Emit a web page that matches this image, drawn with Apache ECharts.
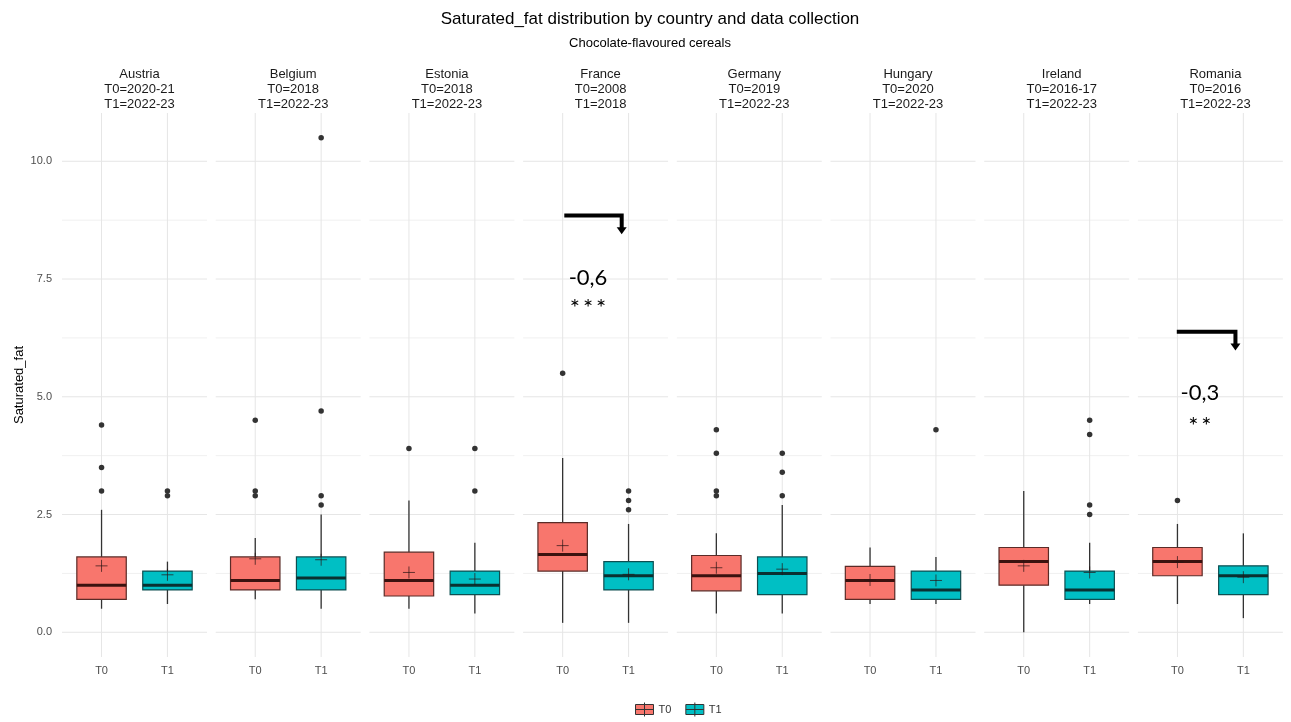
<!DOCTYPE html>
<html>
<head>
<meta charset="utf-8">
<script src="https://cdn.jsdelivr.net/npm/echarts@6/dist/echarts.min.js"></script>
<style>
  html, body { margin: 0; padding: 0; background: #fff; }
  #main { width: 1291px; height: 722px; }
</style>
</head>
<body>
<div id="main"></div>
<script>
(function () {
  var countries = ['Austria', 'Belgium', 'Estonia', 'France', 'Germany', 'Hungary', 'Ireland', 'Romania'];
  var periodT0 = ['2020-21', '2018', '2018', '2008', '2019', '2020', '2016-17', '2016'];
  var periodT1 = ['2022-23', '2022-23', '2022-23', '2018', '2022-23', '2022-23', '2022-23', '2022-23'];
  var groups = ['T0', 'T1'];

  // [whisker low, Q1, median, Q3, whisker high, mean]
  var statsT0 = [
    [0.5, 0.7, 1.0, 1.6, 2.6, 1.41],
    [0.7, 0.9, 1.1, 1.6, 2.0, 1.56],
    [0.5, 0.77, 1.1, 1.7, 2.8, 1.27],
    [0.2, 1.3, 1.65, 2.33, 3.7, 1.84],
    [0.4, 0.88, 1.2, 1.63, 2.1, 1.37],
    [0.6, 0.7, 1.1, 1.4, 1.8, 1.11],
    [0.0, 1.0, 1.5, 1.8, 3.0, 1.41],
    [0.6, 1.2, 1.5, 1.8, 2.3, 1.49]
  ];
  var statsT1 = [
    [0.6, 0.9, 1.0, 1.3, 1.5, 1.22],
    [0.5, 0.9, 1.15, 1.6, 2.5, 1.54],
    [0.4, 0.8, 1.0, 1.3, 1.9, 1.13],
    [0.2, 0.9, 1.2, 1.5, 2.3, 1.23],
    [0.4, 0.8, 1.25, 1.6, 2.7, 1.34],
    [0.6, 0.7, 0.9, 1.3, 1.6, 1.10],
    [0.6, 0.7, 0.9, 1.3, 1.9, 1.27],
    [0.3, 0.8, 1.2, 1.41, 2.1, 1.17]
  ];
  var outliersT0 = [
    [4.4, 3.5, 3.0], [4.5, 3.0, 2.9], [3.9], [5.5],
    [4.3, 3.8, 3.0, 2.9], [], [], [2.8]
  ];
  var outliersT1 = [
    [3.0, 2.9], [10.5, 4.7, 2.9, 2.7], [3.9, 3.0], [3.0, 2.8, 2.6],
    [3.8, 3.4, 2.9], [4.3], [4.5, 4.2, 2.7, 2.5], []
  ];

  var yTicks = [0, 2.5, 5, 7.5, 10];
  var yMinor = [1.25, 3.75, 6.25, 8.75];

  // significance annotations (data units of the panel)
  var annotations = [
    { panel: 3, from: 1.025, to: 1.896, y: 8.85, tip: 8.45, change: '-0,6', stars: '***', tx: 1.385, ty: 7.52, sy: 6.95 },
    { panel: 7, from: 0.99, to: 1.88, y: 6.38, tip: 5.98, change: '-0,3', stars: '**', tx: 1.34, ty: 5.08, sy: 4.44 }
  ];

  var fills = ['#F8766D', '#00BFC4'];
  var borders = ['#5a2b27', '#0e4f51'];
  var medians = ['#3b120f', '#0a3131'];
  var font = 'Liberation Sans, Arial, sans-serif';

  var left0 = 62, step = 153.7, pw = 145, top = 113, ph = 544;

  var grid = [], xAxis = [], yAxis = [], series = [], titles = [];

  titles.push({
    text: 'Saturated_fat distribution by country and data collection',
    left: 645, top: 6, textAlign: 'center',
    textStyle: { fontFamily: font, fontSize: 17, fontWeight: 'normal', color: '#000' }
  });
  titles.push({
    text: 'Chocolate-flavoured cereals',
    left: 645, top: 32, textAlign: 'center',
    textStyle: { fontFamily: font, fontSize: 13, fontWeight: 'normal', color: '#000' }
  });

  function renderGrid(params, api) {
    var cs = params.coordSys;
    var kind = api.value(0), v = api.value(1);
    if (kind === 2) {
      var px = api.coord([v, 0])[0];
      return { type: 'line', shape: { x1: px, y1: cs.y, x2: px, y2: cs.y + cs.height },
        style: { stroke: '#e6e6e6', lineWidth: 1 }, silent: true };
    }
    var py = api.coord([1, v])[1];
    return { type: 'line', shape: { x1: cs.x, y1: py, x2: cs.x + cs.width, y2: py },
      style: { stroke: kind === 0 ? '#e6e6e6' : '#f0f0f0', lineWidth: 1 }, silent: true };
  }

  function makeBoxRenderer(g) {
    return function (params, api) {
      var x = api.value(0);
      var pLo = api.coord([x, api.value(1)]);
      var pQ1 = api.coord([x, api.value(2)]);
      var pMed = api.coord([x, api.value(3)]);
      var pQ3 = api.coord([x, api.value(4)]);
      var pHi = api.coord([x, api.value(5)]);
      var pMean = api.coord([x, api.value(6)]);
      var w = api.size([0.75, 0])[0];
      var cx = pMed[0];
      return {
        type: 'group',
        children: [
          { type: 'line', shape: { x1: cx, y1: pQ3[1], x2: cx, y2: pHi[1] }, style: { stroke: '#333', lineWidth: 1.3 } },
          { type: 'line', shape: { x1: cx, y1: pQ1[1], x2: cx, y2: pLo[1] }, style: { stroke: '#333', lineWidth: 1.3 } },
          { type: 'rect', shape: { x: cx - w / 2, y: pQ3[1], width: w, height: pQ1[1] - pQ3[1] },
            style: { fill: fills[g], stroke: borders[g], lineWidth: 1.2 } },
          { type: 'line', shape: { x1: cx - w / 2, y1: pMed[1], x2: cx + w / 2, y2: pMed[1] }, style: { stroke: medians[g], lineWidth: 3 } },
          { type: 'line', shape: { x1: cx - 6, y1: pMean[1], x2: cx + 6, y2: pMean[1] }, style: { stroke: 'rgba(40,20,20,0.7)', lineWidth: 1 } },
          { type: 'line', shape: { x1: cx, y1: pMean[1] - 6, x2: cx, y2: pMean[1] + 6 }, style: { stroke: 'rgba(40,20,20,0.7)', lineWidth: 1 } }
        ]
      };
    };
  }

  function renderAnnotation(k, api) {
    var a = annotations[k];
    var p1 = api.coord([a.from, a.y]);
    var p2 = api.coord([a.to, a.y]);
    var pt = api.coord([a.to, a.tip]);
    var pText = api.coord([a.tx, a.ty]);
    var pStars = api.coord([a.tx, a.sy]);
    return {
      type: 'group',
      children: [
        { type: 'polyline', shape: { points: [p1, p2, [p2[0], pt[1] - 6]] },
          style: { stroke: '#000', lineWidth: 4, fill: null } },
        { type: 'polygon', shape: { points: [[pt[0] - 5, pt[1] - 7], [pt[0] + 5, pt[1] - 7], [pt[0], pt[1]]] },
          style: { fill: '#000' } },
        { type: 'text', x: pText[0], y: pText[1],
          style: { text: a.change, fontFamily: 'Lato, Open Sans, sans-serif', fontSize: 22, fill: '#000', align: 'center', verticalAlign: 'middle' } },
        { type: 'text', x: pStars[0], y: pStars[1] + 3,
          style: { text: a.stars.split('').join('\u2009'), fontFamily: 'Lato, Open Sans, sans-serif', fontSize: 24, fill: '#000', align: 'center', verticalAlign: 'middle' } }
      ]
    };
  }

  var boxSeries = [], outSeries = [], gridSeries = [];

  countries.forEach(function (c, i) {
    var left = left0 + i * step;
    grid.push({ left: left, top: top, width: pw, height: ph });
    titles.push({
      text: c + '\nT0=' + periodT0[i] + '\nT1=' + periodT1[i],
      left: left + pw / 2, top: 62, textAlign: 'center',
      textStyle: { fontFamily: font, fontSize: 13, lineHeight: 15, fontWeight: 'normal', color: '#1a1a1a' }
    });
    xAxis.push({
      type: 'value', gridIndex: i, min: 0.4, max: 2.6,
      axisLine: { show: false }, axisTick: { show: false }, splitLine: { show: false },
      axisLabel: {
        customValues: [1, 2],
        formatter: function (v) { return groups[Math.round(v) - 1]; },
        color: '#4d4d4d', fontSize: 11, fontFamily: font, margin: 8
      }
    });
    yAxis.push({
      type: 'value', gridIndex: i, min: -0.525, max: 11.025,
      axisLine: { show: false }, axisTick: { show: false }, splitLine: { show: false },
      axisLabel: {
        show: i === 0,
        customValues: yTicks,
        formatter: function (v) { return v.toFixed(1); },
        color: '#4d4d4d', fontSize: 11, fontFamily: font, margin: 10
      },
      name: i === 0 ? 'Saturated_fat' : '',
      nameLocation: 'middle', nameGap: 36,
      nameTextStyle: { fontFamily: font, fontSize: 13, color: '#000' }
    });

    var gdata = [];
    yTicks.forEach(function (v) { gdata.push([0, v]); });
    yMinor.forEach(function (v) { gdata.push([1, v]); });
    gdata.push([2, 1], [2, 2]);
    gridSeries.push({
      type: 'custom', xAxisIndex: i, yAxisIndex: i, z: 0, silent: true,
      renderItem: renderGrid, data: gdata
    });

    [statsT0, statsT1].forEach(function (stats, g) {
      boxSeries.push({
        type: 'custom', name: groups[g], xAxisIndex: i, yAxisIndex: i, z: 2,
        itemStyle: { color: fills[g] },
        renderItem: makeBoxRenderer(g),
        data: [[g + 1].concat(stats[i])]
      });
    });
    [outliersT0, outliersT1].forEach(function (outs, g) {
      outSeries.push({
        type: 'scatter', name: groups[g], xAxisIndex: i, yAxisIndex: i, z: 3,
        symbolSize: 5.5, itemStyle: { color: '#333', opacity: 1 }, silent: true,
        data: outs[i].map(function (v) { return [g + 1, v]; })
      });
    });
  });

  annotations.forEach(function (a, k) {
    series.push({
      type: 'custom', xAxisIndex: a.panel, yAxisIndex: a.panel, z: 5, silent: true,
      renderItem: function (params, api) { return renderAnnotation(k, api); },
      data: [[a.tx, a.ty]]
    });
  });

  series = boxSeries.concat(outSeries, gridSeries, series);

  var chart = echarts.init(document.getElementById('main'));
  chart.setOption({
    backgroundColor: '#fff',
    animation: false,
    title: titles,
    grid: grid,
    xAxis: xAxis,
    yAxis: yAxis,
    legend: {
      data: groups,
      bottom: 0, left: 630,
      icon: 'path://M0,2L18,2L18,12L0,12Z M0,7L18,7 M9,0L9,2 M9,12L9,14 M9,2L9,12',
      itemWidth: 18, itemHeight: 15, itemGap: 14,
      itemStyle: { borderColor: '#333', borderWidth: 1 },
      textStyle: { fontFamily: font, fontSize: 11, color: '#333' }
    },
    series: series
  });

  window.addEventListener('resize', function () { chart.resize(); });
})();
</script>
</body>
</html>
